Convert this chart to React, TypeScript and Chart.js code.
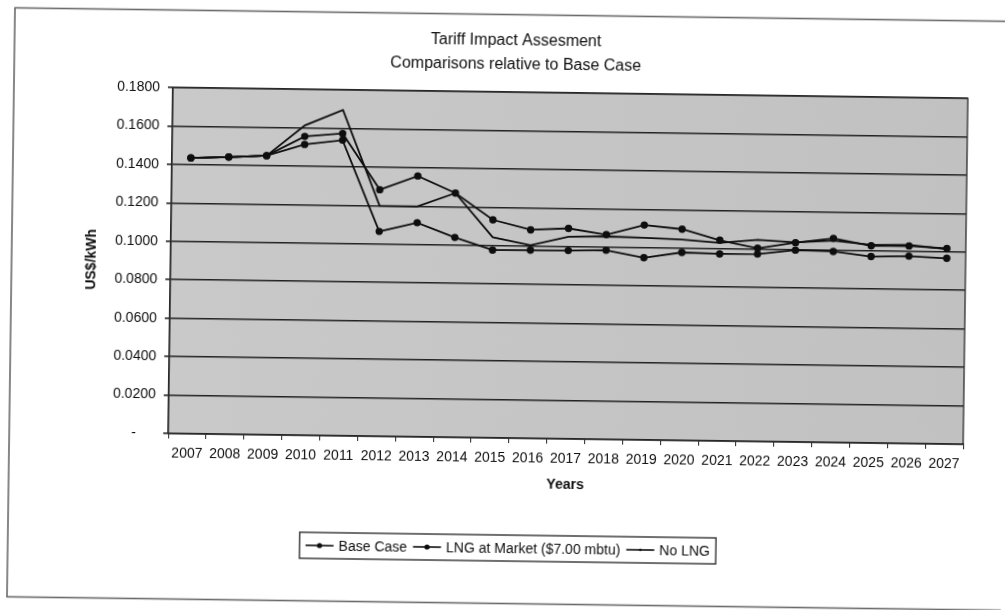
import React, { useEffect, useRef } from "react";
import { Chart, registerables } from "chart.js";

Chart.register(...registerables);

const years = [
  "2007", "2008", "2009", "2010", "2011", "2012", "2013", "2014", "2015", "2016", "2017",
  "2018", "2019", "2020", "2021", "2022", "2023", "2024", "2025", "2026", "2027",
];
const baseCase = [
  0.1435, 0.1442, 0.1452, 0.1555, 0.1573, 0.1283, 0.1357, 0.1271, 0.1134, 0.1085, 0.1095,
  0.1065, 0.1118, 0.1099, 0.1044, 0.1005, 0.1037, 0.1062, 0.1026, 0.1028, 0.1017,
];
const lngAtMarket = [
  0.1435, 0.1442, 0.1452, 0.1513, 0.1538, 0.1066, 0.1114, 0.1040, 0.0977, 0.0979, 0.0980,
  0.0984, 0.0948, 0.0978, 0.0973, 0.0975, 0.0998, 0.0994, 0.0970, 0.0975, 0.0966,
];
const noLng = [
  0.1435, 0.1442, 0.1452, 0.1612, 0.1695, 0.1200, 0.1198, 0.1271, 0.1044, 0.1005, 0.1052,
  0.1056, 0.1051, 0.1045, 0.1031, 0.1049, 0.1038, 0.1050, 0.1031, 0.1033, 0.1014,
];
const seriesNames = ["Base Case", "LNG at Market ($7.00 mbtu)", "No LNG"];
const titleLines = ["Tariff Impact Assesment", "Comparisons relative to Base Case"];
const yAxisTitle = "US$/kWh";
const xAxisTitle = "Years";

const FONT = '"Liberation Sans", Arial, Helvetica, sans-serif';
const INK = "#0e0e0e";

const framePlugin = {
  id: "frameAndBg",
  beforeDraw(chart: any) {
    const { ctx, chartArea } = chart;
    ctx.save();
    ctx.fillStyle = "#ffffff";
    ctx.fillRect(0, 0, chart.width, chart.height);
    ctx.strokeStyle = "#6a6a6a";
    ctx.lineWidth = 1.6;
    ctx.strokeRect(11, 14.5, 1100, 589);
    const g = ctx.createLinearGradient(chartArea.left, 0, chartArea.right, 0);
    g.addColorStop(0, "#c9c9c9");
    g.addColorStop(1, "#c1c1c1");
    ctx.fillStyle = g;
    ctx.fillRect(chartArea.left, chartArea.top, chartArea.right - chartArea.left, chartArea.bottom - chartArea.top);
    ctx.restore();
  },
  afterDraw(chart: any) {
    const { ctx, chartArea } = chart;
    ctx.save();
    ctx.strokeStyle = "#2a2a2a";
    ctx.lineWidth = 1.3;
    ctx.strokeRect(chartArea.left, chartArea.top, chartArea.right - chartArea.left, chartArea.bottom - chartArea.top);

    // legend
    ctx.font = `14px ${FONT}`;
    const lineW = 28;
    const gap = 5;
    const itemGap = 6;
    const pad = 6;
    const widths = seriesNames.map((s) => ctx.measureText(s).width);
    const total = pad * 2 + widths.reduce((a, b) => a + b, 0) + seriesNames.length * (lineW + gap) + itemGap * (seriesNames.length - 1);
    const cx = 511;
    const cy = 548;
    const h = 26;
    const left = cx - total / 2;
    ctx.strokeStyle = "#333";
    ctx.lineWidth = 1.4;
    ctx.strokeRect(left, cy - h / 2, total, h);
    let x = left + pad;
    const radii = [2.6, 2.6, 1.3];
    seriesNames.forEach((name, i) => {
      ctx.strokeStyle = INK;
      ctx.lineWidth = 1.6;
      ctx.beginPath();
      ctx.moveTo(x, cy);
      ctx.lineTo(x + lineW, cy);
      ctx.stroke();
      ctx.fillStyle = INK;
      ctx.beginPath();
      ctx.arc(x + lineW / 2, cy, radii[i], 0, Math.PI * 2);
      ctx.fill();
      ctx.fillStyle = INK;
      ctx.textBaseline = "middle";
      ctx.textAlign = "left";
      ctx.fillText(name, x + lineW + gap, cy + 1);
      x += lineW + gap + widths[i] + itemGap;
    });
    ctx.restore();
  },
};

export default function App() {
  const ref = useRef<HTMLCanvasElement | null>(null);

  useEffect(() => {
    if (!ref.current) return;
    const lineStyle = {
      borderColor: INK,
      backgroundColor: INK,
      borderWidth: 1.8,
      pointBackgroundColor: INK,
      pointBorderColor: INK,
      tension: 0,
    };
    const chart = new Chart(ref.current, {
      type: "line",
      data: {
        labels: years,
        datasets: [
          { label: seriesNames[0], data: baseCase, ...lineStyle, pointRadius: 3.7, pointBorderWidth: 0 },
          { label: seriesNames[1], data: lngAtMarket, ...lineStyle, pointRadius: 3.7, pointBorderWidth: 0 },
          { label: seriesNames[2], data: noLng, ...lineStyle, pointRadius: 0 },
        ],
      },
      options: {
        responsive: false,
        animation: false,
        events: [],
        layout: { padding: { left: 60, right: 40, top: 0, bottom: 0 } },
        plugins: {
          legend: { display: false },
          tooltip: { enabled: false },
          title: {
            display: true,
            text: titleLines,
            color: INK,
            font: { family: FONT, size: 16, lineHeight: 1.5, weight: "normal" },
            padding: { top: 29, bottom: 15 },
          },
        },
        scales: {
          x: {
            type: "category",
            offset: true,
            afterFit: (s: any) => {
              s.height = 172;
            },
            grid: { drawOnChartArea: false, drawTicks: true, tickLength: 5, color: "#222", offset: true },
            border: { display: true, color: "#222", width: 1.3 },
            ticks: { color: INK, font: { family: FONT, size: 14 }, padding: 7, maxRotation: 0, autoSkip: false },
            title: {
              display: true,
              text: xAxisTitle,
              color: INK,
              font: { family: FONT, size: 14, weight: "bold" },
              padding: { top: 0, bottom: 117 },
            },
          },
          y: {
            min: 0,
            max: 0.18,
            afterFit: (s: any) => {
              s.width = 110;
            },
            ticks: {
              stepSize: 0.02,
              color: INK,
              font: { family: FONT, size: 14 },
              padding: 8,
              callback: (v: any) => (Math.abs(Number(v)) < 1e-9 ? "-     " : Number(v).toFixed(4)),
            },
            grid: { color: "#222222", lineWidth: 1.6, tickLength: 5 },
            border: { display: true, color: "#222", width: 1.3 },
            title: {
              display: true,
              text: yAxisTitle,
              color: INK,
              font: { family: FONT, size: 14, weight: "bold" },
              padding: { top: 23, bottom: 0 },
            },
          },
        },
      },
      plugins: [framePlugin],
    } as any);
    return () => chart.destroy();
  }, []);

  return (
    <div
      style={{
        position: "fixed",
        left: 0,
        top: 0,
        width: 1005,
        height: 610,
        background: "#fff",
        transform: "rotate(0.78deg)",
        transformOrigin: "502.5px 305px",
      }}
    >
      <canvas ref={ref} width={1005} height={610} style={{ display: "block" }} />
    </div>
  );
}
